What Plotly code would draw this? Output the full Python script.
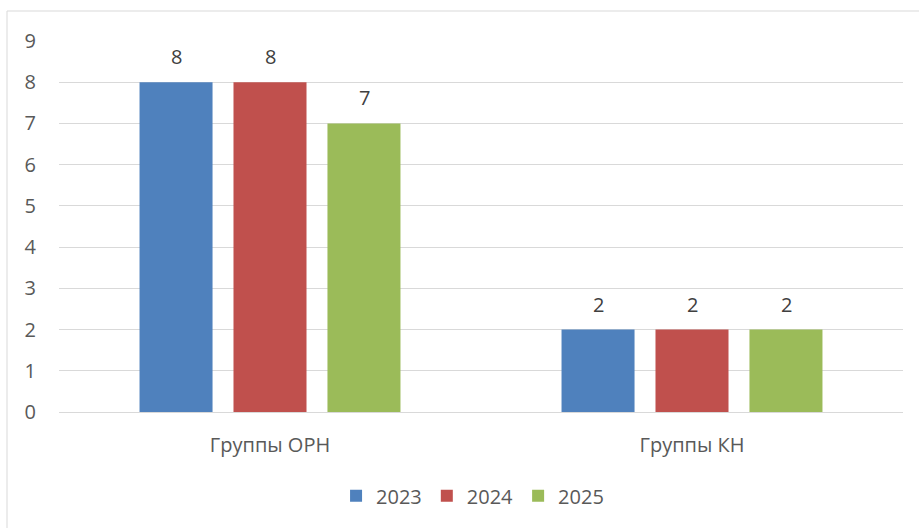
import plotly.graph_objects as go

categories = ["Группы ОРН", "Группы КН"]
years = ["2023", "2024", "2025"]
values_2023 = [8, 2]
values_2024 = [8, 2]
values_2025 = [7, 2]
colors = ["#4f81bd", "#c0504d", "#9bbb59"]

FONT = "Open Sans, Liberation Sans, sans-serif"
TXT = "#595959"

series = [values_2023, values_2024, values_2025]
fig = go.Figure()
for name, vals, col in zip(years, series, colors):
    fig.add_trace(go.Bar(
        x=categories, y=vals, name=name, marker=dict(color=col, line=dict(width=0)),
        hoverinfo="skip",
    ))

# data labels above bars
slot_px = 94
annotations = []
for i, (vals, name) in enumerate(zip(series, years)):
    for cat, v in zip(categories, vals):
        annotations.append(dict(
            x=cat, y=v, xref="x", yref="y", text=str(v), showarrow=False,
            yanchor="bottom", yshift=10, xshift=(i - 1) * slot_px,
            font=dict(family=FONT, size=20, color="#404040"),
        ))

fig.update_layout(
    width=919, height=528,
    margin=dict(l=59, r=16, t=41, b=116),
    paper_bgcolor="white", plot_bgcolor="white",
    barmode="group", bargap=0.332, bargroupgap=0.223,
    font=dict(family=FONT, size=20, color=TXT),
    showlegend=True,
    legend=dict(orientation="h", x=0.49, xanchor="center", y=-0.226, yanchor="middle",
                font=dict(family=FONT, size=20, color=TXT),
                traceorder="normal"),
    xaxis=dict(showgrid=False, showline=False, ticks="", ticklabelstandoff=19,
               tickfont=dict(family=FONT, size=20, color=TXT)),
    yaxis=dict(range=[0, 9], dtick=1, showgrid=True, gridcolor="#d9d9d9", gridwidth=1,
               zeroline=True, zerolinecolor="#d9d9d9", zerolinewidth=1,
               showline=False, ticks="", ticklabelstandoff=22,
               tickfont=dict(family=FONT, size=20, color=TXT)),
    annotations=annotations,
    shapes=[dict(type="rect", xref="paper", yref="paper",
                 x0=(7 - 59) / 844, x1=(925 - 59) / 844,
                 y0=-(540 - 412) / 371, y1=1 + (41 - 11) / 371,
                 line=dict(color="#d9d9d9", width=1), layer="below")],
)

fig.write_html("out.html", config={"displayModeBar": False},
               post_script="document.body.style.margin='0';")
